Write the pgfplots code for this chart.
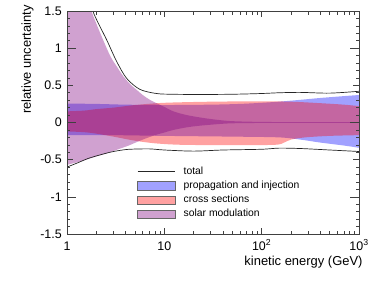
\documentclass[border=0pt]{standalone}
\usepackage{fontspec}
\setmainfont{Liberation Sans}
\usepackage{pgfplots}
\pgfplotsset{compat=1.18}
\usepgfplotslibrary{fillbetween}
\begin{document}
\begin{tikzpicture}
\begin{axis}[
  at={(0,0)}, anchor=south west,
  scale only axis, width=292bp, height=223bp,
  xmode=log, xmin=1, xmax=1000, ymin=-1.5, ymax=1.5,
  axis on top,
  axis line style={draw=black!75, line width=0.8pt},
  every tick/.style={draw=black!75, line width=0.6pt},
  tick align=inside, xtick pos=both, ytick pos=both,
  major tick length=6bp, minor tick length=3.5bp,
  xtick={1,10,100,1000},
  xticklabels={1,10,10\textsuperscript{2},10\textsuperscript{3}},
  ytick={-1.5,-1,-0.5,0,0.5,1,1.5},
  yticklabels={-1.5,-1,-0.5,0,0.5,1,1.5},
  minor y tick num=4,
  extra y ticks={-1,0,1}, extra y tick labels={},
  extra y tick style={major tick length=9bp},
  tick label style={font=\fontsize{12.5}{14}\selectfont},
  xticklabel style={anchor=base, inner sep=0pt, yshift=-16bp},
  yticklabel style={anchor=east, inner sep=0pt, xshift=-5bp},
  xlabel={kinetic energy (GeV)}, ylabel={relative uncertainty},
  label style={font=\fontsize{13}{15}\selectfont, inner sep=0pt},
  xlabel style={at={(axis description cs:1.0127,-0.1000)}, anchor=north east},
  ylabel style={at={(axis description cs:-0.1233,1.027)}, anchor=base east},
  legend style={at={(axis description cs:0.2408,0.3018)}, anchor=north west,
    draw=none, fill=none, inner sep=0pt, outer sep=0pt,
    font=\fontsize{10.4}{12}\selectfont,
    nodes={inner sep=0pt, text height=7.5bp, text depth=2.5bp},
    row sep=4.2bp, cells={anchor=west},
    /tikz/every odd column/.append style={column sep=8bp}},
]
% propagation and injection (blue)
\addplot[name path=bu, draw=none, smooth, forget plot] coordinates {
(1,0.255) (2,0.25) (4,0.24) (10,0.235) (30,0.24) (60,0.25) (100,0.265) (150,0.28) (250,0.305) (400,0.33) (700,0.355) (1000,0.37)};
\addplot[name path=bl, draw=none, smooth, forget plot] coordinates {
(1,-0.17) (3,-0.17) (10,-0.18) (50,-0.19) (150,-0.2) (250,-0.23) (400,-0.27) (700,-0.31) (1000,-0.34)};
\addplot[fill=blue, fill opacity=0.37, draw=none, forget plot] fill between[of=bu and bl];
% cross sections (red)
\addplot[name path=ru, draw=none, smooth, forget plot] coordinates {
(1,0.15) (1.5,0.16) (2,0.18) (3,0.2) (5,0.235) (10,0.265) (30,0.28) (100,0.285) (200,0.28) (400,0.26) (700,0.24) (1000,0.22)};
\addplot[name path=rl, draw=none, smooth, forget plot] coordinates {
(1,-0.12) (1.5,-0.13) (2,-0.15) (3,-0.19) (5,-0.245) (8,-0.28) (15,-0.30) (50,-0.305) (137,-0.30) (170,-0.27) (200,-0.23) (280,-0.2) (500,-0.18) (1000,-0.17)};
\addplot[fill=red, fill opacity=0.37, draw=none, forget plot] fill between[of=ru and rl];
% solar modulation (purple)
\addplot[name path=pu, draw=none, smooth, forget plot] coordinates {
(1,2.7) (1.25,2.15) (1.5,1.77) (1.84,1.45) (2.2,1.2) (2.77,0.9) (3.3,0.74) (3.8,0.62) (4.5,0.51) (5.3,0.43) (6,0.37) (7,0.31) (8.4,0.257) (10,0.21) (12.4,0.15) (17,0.1) (27,0.055) (47,0.02) (100,0.008) (300,0.005) (1000,0.004)};
\addplot[name path=pl, draw=none, smooth, forget plot] coordinates {
(1,-0.57) (1.5,-0.51) (1.95,-0.46) (2.5,-0.42) (3.2,-0.37) (4.3,-0.31) (5.5,-0.25) (6.9,-0.2) (8.5,-0.16) (10,-0.135) (12.4,-0.10) (18,-0.06) (27,-0.035) (47,-0.012) (100,-0.006) (300,-0.004) (1000,-0.004)};
\addplot[fill={rgb,255:red,128;green,0;blue,128}, fill opacity=0.37, draw=none, forget plot] fill between[of=pu and pl];
% total
\addplot[black!85, line width=0.7pt, smooth, forget plot] coordinates {
(1,2.8) (1.4,2.0) (1.84,1.5) (2.56,1.11) (3.24,0.82) (4.1,0.594) (5.6,0.446) (8.3,0.39) (12,0.38) (23,0.377) (50,0.38) (100,0.39) (150,0.40) (250,0.405) (500,0.395) (1000,0.42)};
\addplot[black!85, line width=0.7pt, smooth, forget plot] coordinates {
(1,-0.6) (1.3,-0.54) (1.6,-0.49) (2,-0.45) (2.77,-0.40) (3.5,-0.375) (4.4,-0.36) (7,-0.355) (10,-0.37) (20,-0.385) (40,-0.37) (100,-0.36) (150,-0.345) (250,-0.35) (500,-0.37) (1000,-0.39)};
% legend
\addlegendimage{legend image code/.code={\draw[black!85, line width=0.7pt] (0bp,0bp) -- (37.7bp,0bp);}}
\addlegendentry{total}
\addlegendimage{legend image code/.code={\draw[draw=black!60, line width=0.6pt, fill=blue, fill opacity=0.37] (0bp,-4.15bp) rectangle (37.7bp,4.15bp);}}
\addlegendentry{propagation and injection}
\addlegendimage{legend image code/.code={\draw[draw=black!60, line width=0.6pt, fill=red, fill opacity=0.37] (0bp,-4.15bp) rectangle (37.7bp,4.15bp);}}
\addlegendentry{cross sections}
\addlegendimage{legend image code/.code={\draw[draw=black!60, line width=0.6pt, fill={rgb,255:red,128;green,0;blue,128}, fill opacity=0.37] (0bp,-4.15bp) rectangle (37.7bp,4.15bp);}}
\addlegendentry{solar modulation}
\end{axis}
\path (-67bp,-50bp) rectangle (315bp,234bp);
\end{tikzpicture}
\end{document}
